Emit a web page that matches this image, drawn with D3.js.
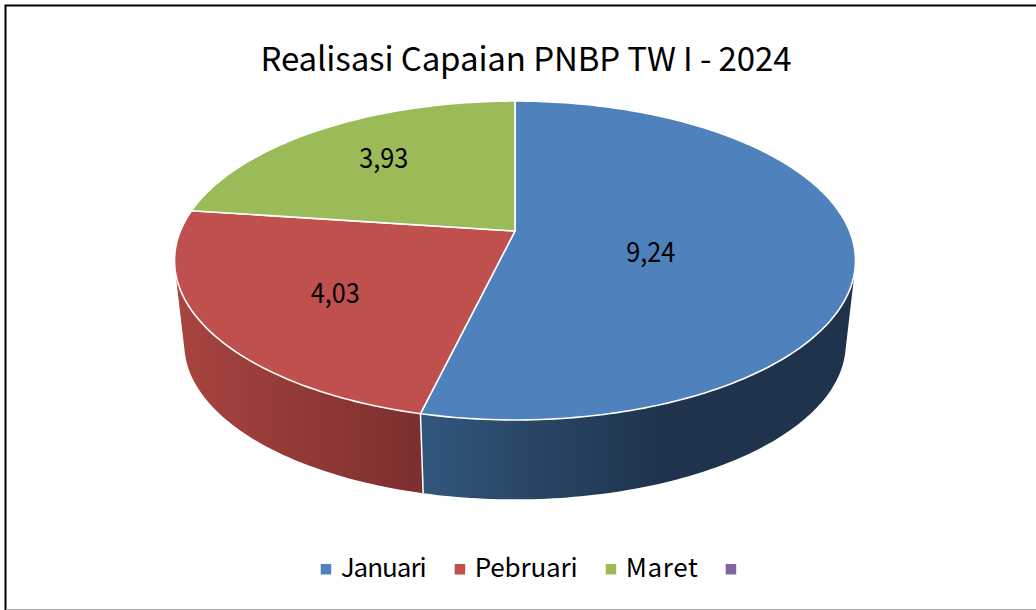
<!DOCTYPE html>
<html>
<head>
<meta charset="utf-8">
<script src="https://cdn.jsdelivr.net/npm/d3@7"></script>
<style>
  html, body { margin: 0; padding: 0; background: #fff; }
  svg { display: block; }
  text { font-family: "Noto Sans CJK JP", "Noto Sans", sans-serif; fill: #000; }
</style>
</head>
<body>
<div id="chart"></div>
<script>
// Chart data
const titleText = "Realisasi Capaian PNBP TW I - 2024";
const categories = ["Januari", "Pebruari", "Maret", ""];
const values = [9.24, 4.03, 3.93, 0];
const valueLabels = ["9,24", "4,03", "3,93", ""];
const colors = ["#4f81bd", "#c0504d", "#9bbb59", "#8064a2"];

// Side wall shading, left to right
const wallColors = [
    { domain: [424, 660], range: ["#31567c", "#1f334d"] },
    { domain: [178, 424], range: ["#a8443f", "#7b2f2e"] }
];

// Widths of the text as it is set in the picture
const legendWidths = [86, 103, 72, 0];
const valueLabelWidth = 49;

const width = 1036;
const height = 610;

// Disc geometry, the pie is seen in perspective
const perspective = 0.185;
const topDisc = { cx: 515, cy: 231, a: 334.6, b: 154 };
const bottomDisc = { cx: 515, cy: 315.3, a: 325, b: 150 };

// Label placement: fraction of the radius, extra shift down
const labelPlace = [[0.405, 14], [0.61, 5], [0.65, -4]];

var svg = d3.select("#chart")
    .append("svg")
    .attr("width", width)
    .attr("height", height);

// Frame, the right edge is cut off by the picture
svg.append("path")
    .attr("d", "M" + width + ",5.5H5.5V" + height)
    .attr("fill", "none")
    .attr("stroke", "#000")
    .attr("stroke-width", 2);

svg.append("path")
    .attr("d", "M6.5,609.5H" + width)
    .attr("fill", "none")
    .attr("stroke", "#a6a6a6")
    .attr("stroke-width", 1);

svg.append("text")
    .attr("x", 526)
    .attr("y", 71)
    .attr("text-anchor", "middle")
    .attr("font-size", 33)
    .attr("textLength", 531)
    .text(titleText);

// Project an angle (clockwise from the top) on a disc
function project(disc, angle, r) {
    r = r === undefined ? 1 : r;
    var X = Math.sin(angle) * r;
    var Y = Math.cos(angle) * r;
    var w = 1 + perspective * Y;
    return [disc.cx + X * disc.a / w, disc.cy - Y * disc.b / w];
}

var arcs = d3.pie().sort(null)(values).filter(function(d) { return d.value > 0; });
var line = d3.line();

function arcAngles(d) {
    var n = Math.ceil((d.endAngle - d.startAngle) / (Math.PI / 180));
    return d3.range(n + 1).map(function(i) {
        return d.startAngle + (d.endAngle - d.startAngle) * i / n;
    });
}

var defs = svg.append("defs");

// Side walls, strips that face the viewer joined in one path so no seams show
arcs.forEach(function(d) {
    var wall = wallColors[d.index];
    if (!wall) return;

    var gradId = "wall" + d.index;
    var grad = defs.append("linearGradient")
        .attr("id", gradId)
        .attr("gradientUnits", "userSpaceOnUse")
        .attr("x1", wall.domain[0])
        .attr("x2", wall.domain[1])
        .attr("y1", 0)
        .attr("y2", 0);
    grad.append("stop").attr("offset", 0).attr("stop-color", wall.range[0]);
    grad.append("stop").attr("offset", 1).attr("stop-color", wall.range[1]);

    var angles = arcAngles(d).filter(function(a) { return Math.cos(a) < 0.25; });
    var strips = d3.pairs(angles).map(function(s) {
        var quad = [
            project(topDisc, s[0]),
            project(topDisc, s[1]),
            project(bottomDisc, s[1]),
            project(bottomDisc, s[0])
        ];
        // keep every strip wound the same way
        if (d3.polygonArea(quad) < 0) quad.reverse();
        return line(quad) + "Z";
    });

    svg.append("path")
        .attr("d", strips.join(""))
        .attr("fill", "url(#" + gradId + ")");
});

// White seam between the walls
arcs.filter(function(d) { return d.index === 0; })
    .forEach(function(d) {
        svg.append("path")
            .attr("d", line([project(topDisc, d.endAngle), project(bottomDisc, d.endAngle)]))
            .attr("stroke", "#fff")
            .attr("stroke-width", 1.5)
            .attr("fill", "none");
    });

// Top of the pie
svg.append("g")
    .selectAll("path")
    .data(arcs)
    .join("path")
    .attr("d", function(d) {
        var pts = arcAngles(d).map(function(a) { return project(topDisc, a); });
        pts.unshift([topDisc.cx, topDisc.cy]);
        return line(pts) + "Z";
    })
    .attr("fill", function(d) { return colors[d.index]; })
    .attr("stroke", "#fff")
    .attr("stroke-width", 1.6)
    .attr("stroke-linejoin", "round");

// Value labels
svg.append("g")
    .selectAll("text")
    .data(arcs)
    .join("text")
    .attr("x", function(d) {
        return project(topDisc, (d.startAngle + d.endAngle) / 2, labelPlace[d.index][0])[0];
    })
    .attr("y", function(d) {
        return project(topDisc, (d.startAngle + d.endAngle) / 2, labelPlace[d.index][0])[1] + labelPlace[d.index][1] + 10;
    })
    .attr("text-anchor", "middle")
    .attr("font-size", 28)
    .attr("textLength", valueLabelWidth)
    .attr("lengthAdjust", "spacingAndGlyphs")
    .text(function(d) { return valueLabels[d.index]; });

// Legend, laid out left to right
var legend = svg.append("g");
var legendX = 320.7;
categories.forEach(function(name, i) {
    legend.append("rect")
        .attr("x", legendX)
        .attr("y", 564)
        .attr("width", 10.5)
        .attr("height", 10.5)
        .attr("fill", colors[i]);
    if (name) {
        legend.append("text")
            .attr("x", legendX + 20)
            .attr("y", 577)
            .attr("font-size", 26)
            .attr("textLength", legendWidths[i])
            .text(name);
    }
    legendX += 20 + legendWidths[i] + 28;
});
</script>
</body>
</html>
